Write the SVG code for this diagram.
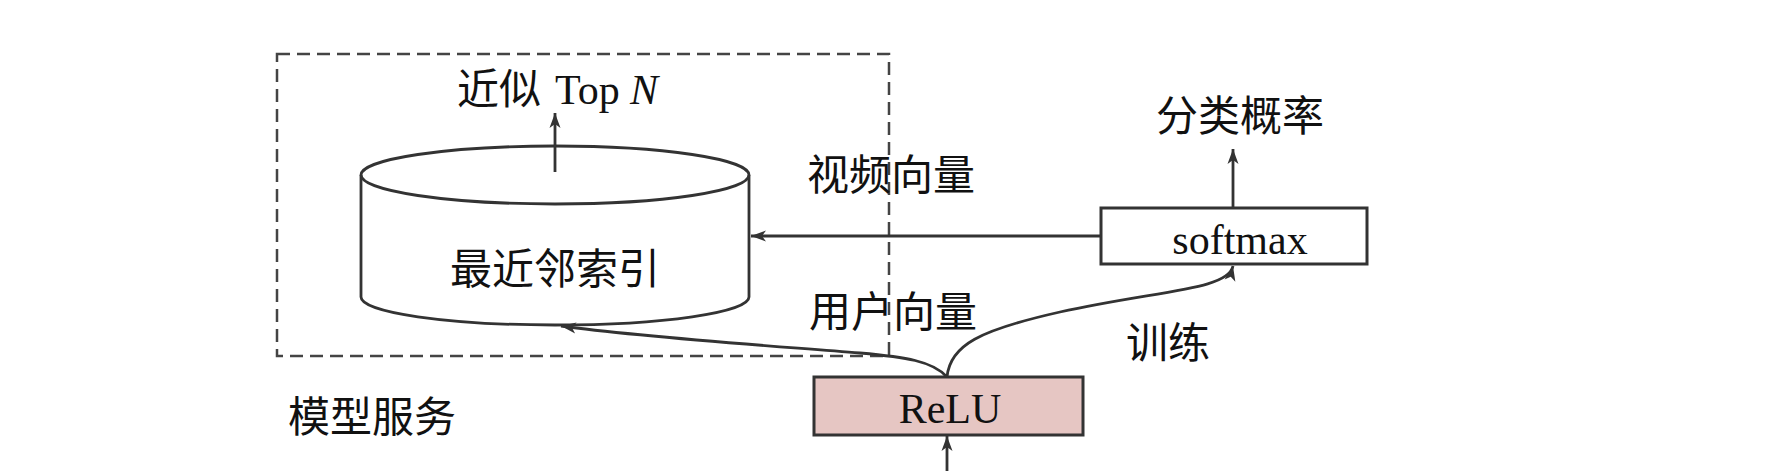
<svg xmlns="http://www.w3.org/2000/svg" width="1772" height="471" viewBox="0 0 1772 471">
<style>
.cjk{font-family:"Noto Sans CJK SC","Liberation Serif",sans-serif;font-size:42px;fill:#111}
.lat{font-family:"Liberation Serif",serif;font-size:42px;fill:#111}
.ln{fill:none;stroke:#333;stroke-width:2.8}
.box{stroke:#333;stroke-width:3}
</style>
<defs>
<marker id="ah" markerWidth="16" markerHeight="12" refX="15" refY="6" orient="auto" markerUnits="userSpaceOnUse">
<path d="M0,0.5 L15,6 L0,11.5 L4,6 z" fill="#333"/>
</marker>
</defs>
<rect width="1772" height="471" fill="#fff"/>

<g id="serving">
<rect x="277" y="54" width="612" height="302" fill="none" stroke="#444" stroke-width="2.5" stroke-dasharray="13 7"/>
<text class="cjk" x="288" y="432">模型服务</text>
</g>

<g id="index">
<path class="ln" d="M361,175 L361,297 A194,28 0 0 0 749,297 L749,175" fill="#fff"/>
<ellipse class="ln" cx="555" cy="175" rx="194" ry="29" fill="#fff"/>
<text class="cjk" x="555" y="284" text-anchor="middle">最近邻索引</text>
</g>

<g id="topn">
<text class="cjk" x="457" y="104">近似<tspan class="lat" x="555">Top</tspan><tspan class="lat" x="630" font-style="italic">N</tspan></text>
</g>

<g id="softmax">
<rect class="box" x="1101" y="208" width="266" height="56" fill="#fff"/>
<text class="lat" x="1240" y="254" text-anchor="middle">softmax</text>
</g>

<g id="prob">
<text class="cjk" x="1156" y="131">分类概率</text>
</g>

<g id="relu">
<rect class="box" x="814" y="377" width="269" height="58" fill="#e6c6c3"/>
<text class="lat" x="950" y="423" text-anchor="middle">ReLU</text>
</g>

<g id="labels">
<text class="cjk" x="807" y="190">视频向量</text>
<text class="cjk" x="809" y="327">用户向量</text>
<text class="cjk" x="1126" y="358">训练</text>
</g>

<g id="connectors">
<line class="ln" x1="555" y1="172" x2="555" y2="113" marker-end="url(#ah)"/>
<line class="ln" x1="1233" y1="208" x2="1233" y2="149" marker-end="url(#ah)"/>
<line class="ln" x1="1101" y1="236" x2="751" y2="236" marker-end="url(#ah)"/>
<line class="ln" x1="947" y1="471" x2="947" y2="436" marker-end="url(#ah)"/>
<path class="ln" d="M947,377 C933,361 905,357 860,353 C760,345 640,337 561,326" marker-end="url(#ah)"/>
<path class="ln" d="M947,377 C950,345 980,330 1060,312 C1160,290 1228,290 1233,266" marker-end="url(#ah)"/>
</g>
</svg>
